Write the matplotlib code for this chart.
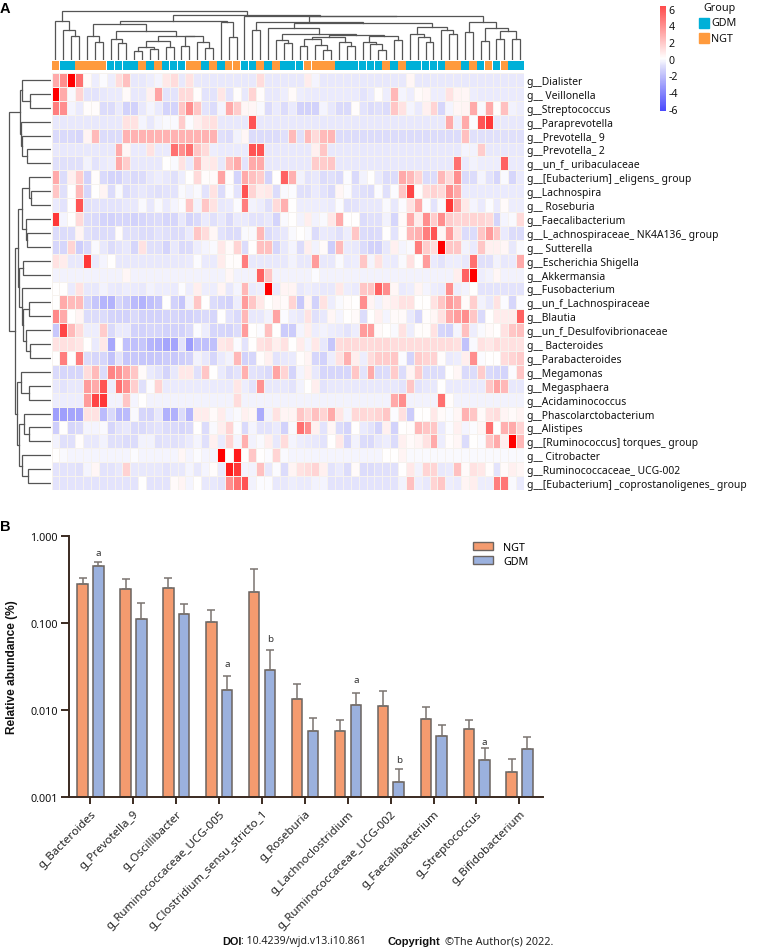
import numpy as np
import matplotlib
matplotlib.use('Agg')
import matplotlib.pyplot as plt
from matplotlib.colors import LinearSegmentedColormap
from matplotlib.patches import Rectangle, Patch
from matplotlib.transforms import ScaledTranslation

plt.rcParams['font.family'] = ['Noto Sans', 'DejaVu Sans']

W, H = 766, 953

# ---- panel A data ----
genera = ['g__Dialister', 'g__ Veillonella', 'g__Streptococcus', 'g__Paraprevotella', 'g__Prevotella_ 9',
          'g__Prevotella_ 2', 'g__un_f_ uribaculaceae', 'g__[Eubacterium] _eligens_ group', 'g__Lachnospira',
          'g__ Roseburia', 'g__Faecalibacterium', 'g__L_achnospiraceae_ NK4A136_ group', 'g__ Sutterella',
          'g__Escherichia Shigella', 'g__Akkermansia', 'g__Fusobacterium', 'g__un_f_Lachnospiraceae', 'g__Blautia',
          'g__un_f_Desulfovibrionaceae', 'g__ Bacteroides', 'g__Parabacteroides', 'g__Megamonas', 'g__Megasphaera',
          'g__Acidaminococcus', 'g__Phascolarctobacterium', 'g__Alistipes', 'g__[Ruminococcus] torques_ group',
          'g__ Citrobacter', 'g__Ruminococcaceae_ UCG-002', 'g__[Eubacterium] _coprostanoligenes_ group']

sample_groups = list('OBBOOOOBBBBOBOBBBOOBOBOOBBOBOBBB' 'OOOO' 'BBBBBB' 'O' 'B' 'O' 'BBBBB' 'OO' 'B' 'O' 'B' 'O' 'B' 'O' 'BB')

heat_values = [
    [3,4,9,5,0.2,-0.5,-0.1,-0.5,1.2,2.2, -0.7,-0.7,-0.5,-0.3,0.8,1.2,-0.7,1,-0.7,-0.7, -0.7,-0.7,-0.7,-0.7,-0.7,-0.7,1.2,-0.7,-0.7,-0.7, -0.7,-0.7,0.7,-0.3,-0.7,-0.7,-0.7,-0.7,-0.7,-0.7, -0.7,-0.7,-0.7,-0.7,-0.7,0.3,-0.7,-0.7,-0.7,-0.7, -0.7,-0.7,-0.7,-0.7,-0.7,-0.7,-0.7,-0.7,-0.7,-0.7],
    [9,3,-0.2,1.5,-0.8,-0.8,-0.7,-0.6,-0.6,0.2, -0.7,-0.7,0.5,3.2,-0.8,-0.8,1.3,1.3,0.1,-0.8, -0.8,0.9,-0.8,0.1,-0.7,1.5,0.1,-0.7,-0.7,-0.5, 0.2,-0.5,-0.6,-0.6,-0.6,-0.6,-0.6,-0.6,-0.6,-0.8, -0.6,0.1,-0.5,2.5,-0.3,-0.5,0.2,0.3,-0.5,-0.5, 1,0.4,0.3,-0.5,-0.6,-0.6,-0.6,-0.6,-0.6,-0.6],
    [4.5,4,-0.3,-0.6,0.1,0.1,-1,-1,-0.6,-1.4, -1.4,-0.7,-0.3,-0.6,-1.3,-1.3,2,4,2,-0.8, -1,-0.3,3,1.8,0.3,0.3,-0.2,-1,-0.6,-1, -0.6,-1.4,-1.4,-1.4,-0.3,-0.7,-1.1,-1.1,0.1,-0.8, -1,-0.9,-1,2,1,-0.3,-0.6,0.5,1.5,-1.2, -0.3,0.3,0.4,3,-0.2,3,0.1,2.2,-0.4,-0.5],
    [-0.7,-0.7,-0.7,-0.7,-0.7,-0.7,-0.7,-0.7,-0.7,1, 1,-0.3,-0.7,-0.3,-0.2,-0.2,1.8,-0.1,0.6,1, 1.1,-0.7,-0.7,-0.7,-0.7,6,-0.7,-0.7,-0.7,-0.7, -0.7,-0.7,-0.7,-0.7,-0.7,-0.7,-0.7,-0.7,-0.7,-0.7, -0.7,-0.7,-0.7,-0.7,-0.7,-0.7,-0.7,-0.7,-0.7,-0.7, 3,-0.5,3,-0.1,6,7,-0.7,-0.7,-0.7,-0.7],
    [-1.1,-1.1,-1.1,-1.2,0.4,2.4,-1,-1,-1,2.7, 2.7,2.7,2.7,2.7,2.7,2.7,2.7,2.7,2.7,2.7, 2.7,-0.9,-1,-0.4,0.3,-1,-1,-1,-1,-0.9, 2.4,-0.9,2.4,1.3,2.4,2.6,-1,-1,-1,-1, -1,-1,-1,-1,-1,-1,-1,-1,-1,-1, -1,-1,2.2,-0.9,-0.9,-0.9,-0.9,-0.9,-0.9,-0.9],
    [-0.7,-0.7,-0.7,-0.7,-0.7,-0.7,-0.7,-0.7,3,0.3, -0.6,-0.6,1,-0.6,-0.6,5,4,5,2,1.3, -0.5,-0.6,-0.6,-0.6,-0.6,6,6,-0.7,-0.7,-0.7, -0.7,-0.7,-0.7,0.5,2,-0.7,-0.7,-0.7,-0.7,-0.7, -0.7,-0.7,-0.7,-0.7,-0.7,-0.7,-0.7,-0.7,-0.7,-0.7, -0.7,-0.7,-0.3,-0.4,1.8,-0.7,-0.7,-0.7,-0.7,-0.7],
    [-0.9,-0.9,-0.9,-0.9,-0.4,-0.8,-0.6,-0.5,3,1.8, -0.7,-0.7,-0.7,-0.7,0,-0.2,1,-0.6,2.5,0.7, 0.8,-0.7,2.2,3,-0.8,3,3,-0.7,-0.7,-0.7, -0.7,-0.7,-0.7,1.8,1.8,2,-0.7,-0.7,-0.7,-0.7, -0.7,-0.7,-0.7,-0.7,-0.7,-0.7,-0.7,-0.7,-0.7,-0.7, -0.7,5,-0.6,-0.4,-0.5,-0.5,-0.5,5.5,-0.6,-0.6],
    [3,-1,0.5,1.8,-1.4,0.1,-1.1,-1.3,-1.3,-0.9, -1.1,-1,-0.7,-0.5,-0.7,-0.9,-0.5,0,1.3,0.1, 0.2,3.2,0.1,-1.3,3,2.2,1.8,-1.3,0,5.5, 2.8,-0.4,-0.8,-0.7,-1,-0.9,-1.1,-0.1,-1.1,-0.4, 0,-0.6,-1,-1,3,2.5,1.5,-1,-1,2.5, 1.3,4,-1.1,-1,-0.3,-0.8,-1.2,-0.2,-1.2,-0.6],
    [2,-0.9,0,2.4,-1.2,0,0.4,-1,-0.2,-1, -0.8,-0.7,-0.8,-0.9,-0.8,-0.8,-0.2,-0.4,-0.2,-0.8, 1,-1,-0.1,-0.8,6,1.5,0.7,0.8,-1,-0.2, -0.1,-0.9,-0.9,-0.6,-0.8,-1.1,0.3,-0.1,-0.8,-0.9, -1,-0.1,-0.9,-0.1,2,6.5,0.1,1.2,1.6,1.3, 4,3,-0.6,-0.6,-0.6,-0.6,-0.6,-0.6,-0.6,-0.6],
    [-0.6,-0.8,0,6,-0.9,-0.8,-0.8,-0.8,-0.8,-0.7, -0.7,-0.2,-0.7,-0.2,-0.6,-0.3,-0.1,2,-0.4,2, 1,-0.7,-0.6,-0.1,4.5,-0.4,-0.5,-0.9,1.3,2.8, 0,-0.5,-0.5,-0.5,-0.5,-0.6,-0.1,-0.9,-0.8,-0.7, -0.7,-0.7,-0.2,-0.7,-0.1,1,3,-0.1,-0.8,-0.2, 7,3,0.8,-0.3,-0.6,-0.1,-0.6,0.2,-0.5,-0.5],
    [7,-0.3,0,1.3,-1,-1.1,-1.3,-1.4,-1.2,-1.2, -1.4,-1.2,-1.1,-1,-1.2,-1.2,-0.7,-1.3,-1.1,-0.6, -0.9,-0.7,-1.1,-0.6,-0.6,-0.8,-0.8,-0.7,-1.3,-0.2, 0,-0.4,0.6,-0.4,-0.2,0.8,3,0,0,-1, -0.9,-0.9,-0.4,-1.2,0.2,3,0.7,4,1.8,4, 1.8,1.5,1.5,1.5,1.5,1.3,-1.3,-0.3,-0.2,1.3],
    [-1,-1,-1,0.4,-0.9,-1,-1,-1,0.1,-0.9, -0.9,-1,-1,-0.8,-0.9,-1,-1,-0.6,2,1.2, 0.3,-0.8,-1,-1,-0.2,-0.2,2.5,-1,-0.8,-0.7, -0.2,0,-0.2,-1,-0.6,-0.7,-0.9,-0.5,2,-1, -1.1,-1,0,-0.8,0.1,2.5,2.8,4.5,6,0.3, 3.5,1,-1,-1,2,3.5,2,-0.6,-1,-1],
    [-1.2,-1.2,1.5,-1.5,-1.1,-0.2,-0.7,-1,-0.8,-0.7, -1.2,1,-0.9,-0.9,-1.3,-0.7,-1.1,-1,-0.5,-0.3, -0.2,0.8,0.2,1.5,-1,0,2.2,2.2,-1.2,-0.7, -0.3,-1,0.6,-0.4,0.2,-1.5,2.4,-0.6,-0.7,-1, -1.4,-1.4,-0.7,0.5,-0.3,-0.2,4.5,1.8,1.2,9, 2,2,-0.4,-0.6,2,0.5,0.5,0.3,-0.7,-0.2],
    [1,0.7,-0.7,-0.7,7,-0.6,-0.3,0,-0.7,-0.7, -0.7,-0.7,-0.7,-0.7,-0.7,-0.7,-0.7,-0.6,-0.1,-0.6, -0.6,0.7,0.1,0.1,4.5,-0.7,-0.7,-0.7,-0.7,-0.7, -0.4,-0.7,-0.7,3.5,-0.7,-0.7,-0.2,-0.6,-0.5,2, -0.3,1,-0.5,-0.6,-0.2,1,0,3.5,-0.6,-0.8, -0.5,-0.5,-0.7,5,-0.9,-0.9,-0.4,-0.7,-0.6,3],
    [-0.4,-0.4,-0.4,-0.4,-0.4,-0.4,-0.4,-0.4,-0.4,0.3, -0.4,-0.4,-0.4,-0.4,-0.4,-0.4,-0.4,-0.4,-0.4,-0.4, -0.4,-0.4,0.3,-0.4,-0.4,-0.4,5.5,2,-0.4,-0.4, -0.4,-0.4,-0.4,-0.1,-0.4,-0.4,-0.4,-0.4,-0.4,-0.4, -0.4,-0.4,-0.4,-0.4,-0.4,-0.4,-0.4,-0.4,-0.4,-0.4, -0.4,0.6,5.5,9,-0.5,-0.4,0.3,-0.4,-0.4,-0.4],
    [0,0,-0.6,1,-0.7,-0.7,-0.4,-0.6,-0.7,-0.5, -0.6,-0.7,-0.4,-0.5,-0.5,-0.6,-0.1,-0.5,0.6,-0.5, -0.5,0.4,-0.7,-0.3,2.5,-0.6,-0.5,9,-0.6,0.4, 0.4,-0.7,-0.5,-0.6,-0.7,-0.7,0.8,-0.5,-0.6,2, 2,5.5,4,0.3,-0.6,-0.5,0.4,-0.3,-0.5,-0.6, 4,-0.5,-0.4,0,-0.8,-0.8,-0.8,-0.8,-0.8,-0.8],
    [0,3,2.4,2.4,-1.3,-1.8,-2.4,-2.5,-1.2,-1.6, -2.2,-2.5,-2,-1.8,0,-1.4,-1.8,-0.4,2,0, -1,-1.2,-1.4,-0.5,3.5,2,0.8,0,0.3,0.2, 1.5,-1.7,0.4,-1.4,1,-0.5,-0.2,0.1,0,4, 0.4,-0.4,0.4,0.6,1,1,0,0,1,2, 3.5,3,0.2,1.7,-0.4,-0.7,1,-0.1,-1.2,-0.1],
    [4.2,3,0,0.4,-1,-1,-1,-1.3,-1.4,-1.4, -1.1,-1.4,-1.4,-1.4,-1.3,-1.2,-1.4,-1.4,-1.2,-1.1, -1.2,0,-0.8,-1.1,2.5,-0.7,-0.7,-0.4,3.2,-0.1, -0.5,-0.7,1,-0.9,-0.7,0.3,-0.3,0,0.2,-1, 0,0.5,-0.3,0.2,0.2,-0.6,-1.2,0.1,0.3,1, 3,3.5,4,2,-1.1,0,0.7,0.7,0.7,5.5],
    [-1.7,6.5,2.4,1.2,-0.5,-0.5,1.8,-1.1,-0.6,-0.6, -1.4,-1.4,-1.2,-1.2,-1.4,-1.4,-1.4,-1.1,-0.1,-0.5, -1.2,-1.2,-1.3,-1,3.5,0,-0.1,2.2,0,-1.6, -1.6,-0.3,0.6,-0.5,-0.4,-0.5,-0.6,-0.8,-0.5,3.5, 3.5,0.2,0,-0.2,1,-0.5,0.1,0.1,1,-1.2, -1.4,-0.3,2.2,-0.5,-0.2,0.2,0,1,2,2.2],
    [1,1.1,1.1,0.9,0,-0.6,0.8,-2.9,0,-2, -2,-1.8,-2.4,-2.6,-3,-3,-0.8,-3.3,-2,-2, -2,0.8,1,-0.1,-0.8,0,1,1.2,0.6,1, 0,0.7,-0.3,0.8,-0.7,-1.8,1.2,1.4,1.3,1.3, 1.3,1.4,1.4,1.2,1.2,1.2,1.2,1.2,1.2,1.2, 1.2,1.1,-1.9,-0.2,1,0.8,1.2,1,1.1,1],
    [0,4.5,0,4.5,-1,-1.2,-1.2,-1.9,-0.8,-1.8, -1.7,-1.8,-1.8,-1.7,-1.6,-1.7,-1.5,-1.4,-0.4,-0.7, -1.2,-0.6,-0.4,2.5,-1.4,-1.2,0.1,0.5,-0.8,-0.7, -0.6,0.1,0.4,-1.2,-1.4,-0.5,1,2.8,0.6,-0.5, 1.2,1.8,1.8,2,-0.1,-1.3,1.8,1.5,1.6,0.1, -0.6,-0.5,0.6,4,-0.1,0,0,1.2,1.5,1.8],
    [-1.1,-1.2,-1.2,-1.2,1.2,2.4,-1,4.3,3.8,3, 2,0.2,-0.6,-0.8,-1.3,-0.7,0.8,0.8,-0.9,2, 0,-0.6,-1,-0.8,2.8,-0.8,-0.9,-1.1,3.2,1.5, -1.3,-0.3,0.5,-0.7,-1.2,-1.2,-1.2,-1.2,2,-0.8, 3,-1.1,-1,1.8,-1,0.4,1.8,-1,-1,-1, 0,0.3,-1.1,-1,1.8,-1.1,-1.2,-1.3,-0.1,2],
    [-0.7,-0.8,-0.7,-0.7,3.5,3,6,-0.5,5,3.8, 1.7,-0.9,-0.1,1.5,-0.6,-0.6,-0.6,-0.6,-0.6,-0.6, -0.6,-0.6,-0.6,0.9,-0.5,-0.8,3.8,-0.7,-0.7,-0.7, -0.8,-0.4,0,0.6,-0.8,-0.7,-0.7,-0.7,-0.7,-0.7, -0.7,-0.7,-0.7,-0.7,-0.8,2,-0.8,-0.7,-0.7,0.05, -0.6,-0.6,-0.6,-0.6,-0.6,2,3.2,2.5,-0.7,-0.7],
    [-0.5,-0.5,-0.5,-0.5,3.5,6.5,7,-0.4,-0.4,2, -0.3,0,-0.4,-0.4,-0.4,-0.4,-0.4,-0.4,-0.4,-0.4, -0.4,-0.4,-0.4,1.2,-0.4,-0.4,-0.4,-0.4,-0.4,-0.4, -0.4,-0.4,-0.4,-0.4,-0.4,-0.4,-0.4,-0.4,-0.4,-0.4, -0.4,-0.4,-0.4,3,4,-0.4,-0.4,-0.4,-0.4,5, 0.1,-0.4,-0.4,-0.4,-0.4,-0.4,-0.4,-0.4,-0.4,-0.4],
    [-3.2,-3.2,-3,-3,1,1,-2.2,-1.1,-2.3,-2.2, -0.2,-1.2,-1.3,-0.7,-2.6,-2.6,-1,-2.4,0.7,0.7, 0.2,0.7,-0.3,-0.2,0.5,0.3,-2.8,-0.4,1,0.4, 0.4,2,1.4,2.2,1.5,3,0.9,-0.3,1.4,1.4, 1.3,1.5,2,-0.1,1.1,-1.6,0,0,0.8,0.2, -0.1,0.3,2.7,2,0.2,1,1.2,0.4,0.2,0.4],
    [-1.5,0,-1.2,-1.1,-0.3,-0.3,-0.2,-1.2,-0.8,-0.7, -1.1,-1.1,-0.9,-0.8,-1,-1.1,-1.2,-1.1,0,-1, -0.2,0.6,1.5,-0.1,-1.1,-0.3,-0.8,-0.8,-0.6,-1.4, -0.2,5,4,0.5,-0.8,0.3,-1,-1.3,0,-0.6, -0.8,-1.3,0.5,-1.4,0,0.1,2.5,2,2,-0.6, -0.1,0.5,-0.3,-0.1,0.3,5,0,2.8,3,1.5],
    [-0.4,-0.9,-0.9,0.1,-0.7,-0.7,-0.4,-0.9,-0.9,-1, -1,-0.4,-0.4,-0.9,-0.8,-0.9,-0.8,-0.6,-0.3,-0.9, 0.5,-0.6,1.5,-0.3,2.8,-0.4,-0.2,0.6,-0.7,1.2, -0.3,-0.5,-0.6,-0.7,-0.8,0,0.8,-1.2,-0.4,-1, -1.1,-0.7,-0.5,-1,0.5,0.2,0.4,1,3,-0.5, 0.1,0.3,-1,0,-0.1,2,3,0.6,9,2.5],
    [0,-0.2,-0.3,-0.3,-0.3,-0.3,-0.3,-0.3,-0.3,-0.3, -0.1,-0.3,-0.3,-0.3,-0.3,-0.3,0.3,-0.3,-0.1,-0.3, -0.3,9,0,8,0,2,0,-0.1,1.5,-0.2, -0.3,-0.3,-0.3,-0.3,-0.3,-0.3,-0.3,-0.3,-0.3,-0.3, -0.3,-0.3,0,0,0.4,-0.2,-0.2,-0.2,-0.2,-0.2, -0.2,-0.2,-0.2,-0.2,-0.2,-0.2,-0.2,-0.2,-0.2,-0.2],
    [-0.8,-0.8,-0.8,-0.9,-0.3,0.3,-0.8,-0.8,-0.7,1.6, -0.7,-0.7,-0.7,-0.7,-0.8,-0.7,-0.7,-0.3,-0.7,-0.3, 0.1,-0.6,8,7,-0.3,-0.4,2.2,-0.7,-0.1,-1, 0.4,1,1.2,1.5,0.5,-0.8,-0.6,-1,0.2,-1, -1,-0.9,-0.9,-0.9,0,0.8,-0.4,1.5,1.5,-0.7, -0.6,2.2,0.2,1,0.8,0.1,-0.8,0.2,0.5,0.3],
    [-0.8,-0.8,-0.8,-0.8,-0.8,-0.8,-0.8,-0.8,-0.8,-0.8, -0.8,0,-0.8,-0.8,-0.8,0.2,0.4,-0.3,0,-0.7, -0.7,-0.8,4,5,6,-0.4,-0.1,-0.1,-0.7,-0.7, -0.5,-0.6,-0.6,-0.4,-0.3,-0.8,-0.8,-0.8,-0.8,-0.8, -0.8,-0.8,-0.8,-0.8,-0.4,2.2,-0.5,-0.7,1.5,2, -0.5,-0.6,0.4,0.6,-0.5,-0.5,4.5,4.8,-0.2,-0.6],
]

# dendrograms: (merge height in px, left, right), None is a leaf
L = None
col_left = (36, (24.3, L, (18.3, L, L)),
            (28.7, (21, L, (16.7, L, L)),
             (24.3, (19.3, (13.3, (8.7, L, L), (11, L, L)), (13.3, L, L)),
              (23.7, (14.3, L, L), (18.3, L, (11.7, L, L))))))
col_tree = (48.7,
            (39.3, L, (30, L, (23.7, L, L))),
            (45.3,
             (39.3, col_left, (37.7, L, (22.7, L, L))),
             (44.3, L,
              (43.7,
               (38.3, (30, L, L),
                (37,
                 (31.7, L,
                  (26, (20.3, L, (17, L, L)),
                   (25,
                    (22.7, (21, (13.7, L, L), (15.3, L, (10.3, L, L))), (17.7, L, (13.7, L, L))),
                    (23.7, (17.7, L, (16, L, (10.3, L, L))), (20.3, L, L))))),
                 (32.7,
                  (26, L, (22.7, L, (18.3, L, L))),
                  (30.3, L, (26, L, L))))),
               (38.3, (27.7, L, L),
                (31.7, (19.3, L, L), (28.7, (21, L, L), (21, L, L))))))))
row_tree = (41.7,
            (31, (29, L, (21, L, L)), (30, L, (29, L, (24.3, L, L)))),
            (35.7,
             (33.3,
              (29, (21.7, L, (20, L, L)), (25, L, (24.3, L, L))),
              (31.7, (27.7, L, L),
               (29, L, (27.7, (21.7, L, L), (25, L, (21, L, L)))))),
             (34.3,
              (30, L, (22.3, L, L)),
              (32.3, (27.3, L, (21.7, L, L)), (29, L, (23.3, L, L))))))

# ---- panel B data ----
taxa = ['g_Bacteroides', 'g_Prevotella_9', 'g_Oscillibacter', 'g_Ruminococcaceae_UCG-005',
        'g_Clostridium_sensu_stricto_1', 'g_Roseburia', 'g_Lachnoclostridium', 'g_Ruminococcaceae_UCG-002',
        'g_Faecalibacterium', 'g_Streptococcus', 'g_Bifidobacterium']
ngt_mean = [0.283, 0.246, 0.252, 0.102, 0.227, 0.0135, 0.00569, 0.0110, 0.00782, 0.0061, 0.00195]
ngt_top = [0.332, 0.323, 0.332, 0.140, 0.414, 0.0197, 0.00767, 0.0164, 0.0109, 0.00767, 0.00276]
gdm_mean = [0.448, 0.111, 0.126, 0.0171, 0.0286, 0.00578, 0.0115, 0.00149, 0.00502, 0.00269, 0.0036]
gdm_top = [0.503, 0.170, 0.167, 0.0244, 0.0493, 0.00816, 0.0157, 0.00208, 0.00667, 0.00366, 0.00485]
sig_letters = ['a', '', '', 'a', 'b', '', 'a', 'b', '', 'a', '']
sig_y = [0.638, 0, 0, 0.0344, 0.0672, 0, 0.0225, 0.00269, 0, 0.00436, 0]


def axes_px(x0, y0, x1, y1):
    return fig.add_axes([x0 / W, 1 - y1 / H, (x1 - x0) / W, (y1 - y0) / H])


def draw_tree(ax, node, counter, vertical):
    # returns leaf position and height of this node
    if node is None:
        counter[0] += 1
        return counter[0] - 0.5, 0
    h, left, right = node
    p1, h1 = draw_tree(ax, left, counter, vertical)
    p2, h2 = draw_tree(ax, right, counter, vertical)
    a, b = [p1, p1, p2, p2], [h1, h, h, h2]
    if vertical:
        ax.plot(a, b, color='#555555', lw=0.9, solid_joinstyle='miter')
    else:
        ax.plot(b, a, color='#555555', lw=0.9, solid_joinstyle='miter')
    return (p1 + p2) / 2, h


fig = plt.figure(figsize=(W / 100, H / 100), dpi=100)

# heatmap
cmap = LinearSegmentedColormap.from_list('bwr2', [(0, '#0000ff'), (0.444, '#dcdcfb'), (0.5, '#ffffff'), (1, '#ff0000')])
data = np.array(heat_values)
ax = axes_px(51.5, 74, 524, 491)
ax.pcolormesh(data, cmap=cmap, vmin=-9, vmax=9, edgecolors='#f6f2ee', linewidth=0.5)
ax.set_xlim(0, data.shape[1])
ax.set_ylim(data.shape[0], 0)
ax.set_xticks([])
ax.yaxis.tick_right()
ax.set_yticks(np.arange(len(genera)) + 0.5)
ax.set_yticklabels(genera, fontsize=7.45, color='#111111')
ax.tick_params(length=0, pad=2)
for s in ax.spines.values():
    s.set_visible(False)

# group strip
group_colors = {'B': '#00B0D8', 'O': '#FF9A3D'}
ax_strip = axes_px(51.5, 62, 524, 71)
for i, g in enumerate(sample_groups):
    ax_strip.bar(i + 0.5, 1, width=0.96, color=group_colors[g])
ax_strip.set_xlim(0, len(sample_groups))
ax_strip.set_ylim(0, 1)
ax_strip.axis('off')

ax_top = axes_px(51.5, 11, 524, 61)
draw_tree(ax_top, col_tree, [0], True)
ax_top.set_xlim(0, 60)
ax_top.set_ylim(0, 50)
ax_top.axis('off')

ax_left = axes_px(8, 74, 51, 491)
draw_tree(ax_left, row_tree, [0], False)
ax_left.set_xlim(43, 0)
ax_left.set_ylim(30, 0)
ax_left.axis('off')

# colour scale
ax_cb = axes_px(660, 7, 666, 112)
grad = np.linspace(6.3, -6.3, 200).reshape(-1, 1)
ax_cb.imshow(grad, cmap=cmap, vmin=-9, vmax=9, aspect='auto', extent=[0, 1, -6.3, 6.3])
ax_cb.set_xticks([])
ax_cb.yaxis.tick_right()
ax_cb.set_yticks([6, 4, 2, 0, -2, -4, -6])
ax_cb.set_yticklabels(['6', '4', '2', '0', '-2', '-4', '-6'], fontsize=7.6, color='#111111')
ax_cb.tick_params(length=0, pad=2)
for s in ax_cb.spines.values():
    s.set_visible(False)

# overlay in pixel coordinates for the loose bits
over = fig.add_axes([0, 0, 1, 1], zorder=-1)
over.set_xlim(0, W)
over.set_ylim(H, 0)
over.axis('off')
over.text(703, 8, 'Group', fontsize=7.8, va='center', color='#111111')
over.add_patch(Rectangle((699, 19), 10, 10, color=group_colors['B']))
over.add_patch(Rectangle((699, 34), 10, 10, color=group_colors['O']))
over.text(711, 24, 'GDM', fontsize=7.8, va='center', color='#111111')
over.text(711, 39, 'NGT', fontsize=7.8, va='center', color='#111111')
over.text(0, 9, 'A', fontsize=10.5, family='Liberation Sans', fontweight='bold', va='center')
over.text(0, 527, 'B', fontsize=10.5, family='Liberation Sans', fontweight='bold', va='center')
over.text(222, 942, 'DOI', fontsize=7.8, family='Liberation Sans', fontweight='bold', va='center', color='#111111')
over.text(241, 942, ': 10.4239/wjd.v13.i10.861', fontsize=7.6, va='center', color='#222222')
over.text(388, 942, 'Copyright', fontsize=8, family='Liberation Sans', fontweight='bold', va='center', color='#111111')
over.text(445, 942, '©The Author(s) 2022.', fontsize=7.8, va='center', color='#222222')

# bars
ax_b = axes_px(69, 537, 543, 798)
x = np.arange(len(taxa))
ngt_mean, ngt_top = np.array(ngt_mean), np.array(ngt_top)
gdm_mean, gdm_top = np.array(gdm_mean), np.array(gdm_top)
edge = '#6b6460'
err_style = dict(ecolor='#7a7470', elinewidth=1.1, capsize=2.6, capthick=1.1)
ax_b.set_yscale('log')
ax_b.bar(x - 0.18, ngt_mean, width=0.245, color='#F49B6F', edgecolor=edge, linewidth=1.1,
         yerr=[np.zeros(len(x)), ngt_top - ngt_mean], error_kw=err_style, label='NGT')
ax_b.bar(x + 0.187, gdm_mean, width=0.245, color='#9BB1DE', edgecolor=edge, linewidth=1.1,
         yerr=[np.zeros(len(x)), gdm_top - gdm_mean], error_kw=err_style, label='GDM')
for i, letter in enumerate(sig_letters):
    if letter:
        ax_b.text(i + 0.187, sig_y[i], letter, ha='center', va='center', fontsize=7, color='#333333')
ax_b.set_xlim(-0.497, 10.55)
ax_b.set_ylim(0.001, 1)
ax_b.set_yticks([1, 0.1, 0.01, 0.001])
ax_b.set_yticklabels(['1.000', '0.100', '0.010', '0.001'], fontsize=7.8, color='#111111')
ax_b.minorticks_off()
ax_b.set_xticks(x)
ax_b.set_xticklabels(taxa, rotation=45, ha='right', rotation_mode='anchor', fontsize=8.3, color='#222222')
shift = ScaledTranslation(-4 / 100, 0, fig.dpi_scale_trans)
for lab in ax_b.get_xticklabels():
    lab.set_transform(lab.get_transform() + shift)
ax_b.tick_params(axis='y', length=6, width=1.4, color='#3a2a20', pad=2)
ax_b.tick_params(axis='x', length=5, width=1.4, color='#3a2a20', pad=3)
for s in ['top', 'right']:
    ax_b.spines[s].set_visible(False)
for s in ['left', 'bottom']:
    ax_b.spines[s].set_linewidth(1.4)
    ax_b.spines[s].set_color('#3a2a20')
ax_b.patch.set_alpha(0)
ax_b.set_ylabel('Relative abundance (%)', fontsize=8.6, family='Liberation Sans', fontweight='bold', labelpad=9, color='#111111')
ax_b.legend(handles=[Patch(facecolor='#F49B6F', edgecolor=edge, label='NGT'),
                     Patch(facecolor='#9BB1DE', edgecolor=edge, label='GDM')],
            loc='upper left', bbox_to_anchor=((464 - 69) / 474, 1.012), frameon=False, fontsize=7.8,
            handlelength=1.9, handleheight=0.8, labelspacing=0.28, handletextpad=0.9, borderpad=0.3)

fig.savefig('out.png', dpi=100)
